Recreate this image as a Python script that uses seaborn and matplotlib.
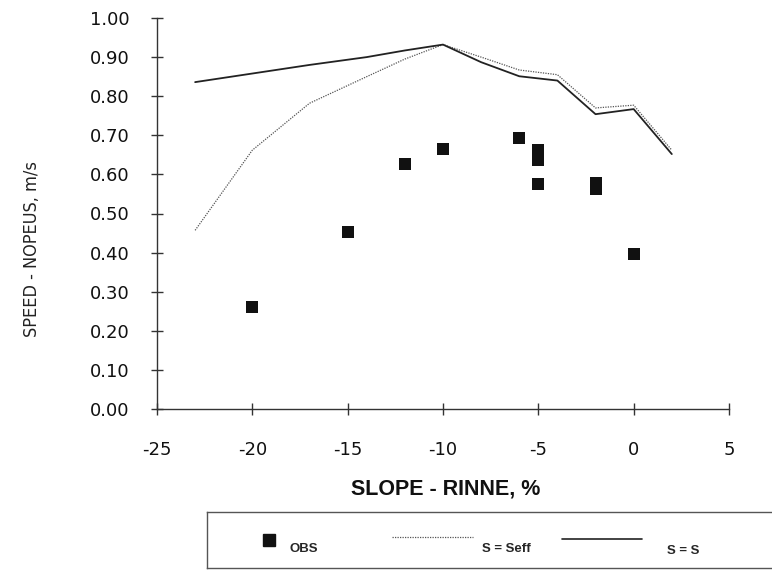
import numpy as np
import pandas as pd
import matplotlib
matplotlib.use("Agg")
import matplotlib.pyplot as plt
import seaborn as sns

# ---- data ----
obs_slope = [-20, -15, -12, -10, -6, -5, -5, -5, -2, -2, 0]
obs_speed = [0.26, 0.453, 0.626, 0.665, 0.692, 0.662, 0.636, 0.576, 0.578, 0.562, 0.397]

line_slope = [-23, -20, -17, -14, -12, -10, -8, -6, -4, -2, 0, 2]
seff_speed = [0.457, 0.662, 0.782, 0.850, 0.895, 0.932, 0.900, 0.867, 0.855, 0.770, 0.777, 0.662]
s_speed = [0.836, 0.858, 0.880, 0.900, 0.917, 0.932, 0.887, 0.851, 0.840, 0.754, 0.767, 0.652]

x_ticks = [-25, -20, -15, -10, -5, 0, 5]
y_ticks = [0.0, 0.1, 0.2, 0.3, 0.4, 0.5, 0.6, 0.7, 0.8, 0.9, 1.0]

legend_labels = ["OBS", "S = Seff", "S = S"]

sns.set_style("ticks")
plt.rcParams["font.family"] = ["DejaVu Sans"]

W, H = 772, 572
fig = plt.figure(figsize=(W / 100, H / 100), dpi=100)
ax = fig.add_axes([157 / W, 1 - 409 / H, (729 - 157) / W, (409 - 18) / H])

lines_df = pd.DataFrame({"slope": line_slope, "seff": seff_speed, "s": s_speed})
obs_df = pd.DataFrame({"slope": obs_slope, "speed": obs_speed})

sns.lineplot(data=lines_df, x="slope", y="seff", ax=ax, color="#555555",
             linestyle=(0, (1, 1)), linewidth=0.9, sort=False)
sns.lineplot(data=lines_df, x="slope", y="s", ax=ax, color="#222222",
             linewidth=1.3, sort=False)
sns.scatterplot(data=obs_df, x="slope", y="speed", ax=ax, marker="s", s=75,
                color="#111111", edgecolor="#111111", linewidth=0, zorder=5)

ax.set_xlim(-25, 5)
ax.set_ylim(0, 1.0)
ax.set_xticks(x_ticks)
ax.set_xticklabels([str(t) for t in x_ticks])
ax.set_yticks(y_ticks)
ax.set_yticklabels([f"{t:.2f}" for t in y_ticks])
sns.despine(ax=ax)
for sp in ["left", "bottom"]:
    ax.spines[sp].set_color("#333333")
    ax.spines[sp].set_linewidth(1.0)
ax.tick_params(axis="both", direction="inout", length=8, width=1.0,
               color="#333333", labelsize=13, labelcolor="#111111")
ax.tick_params(axis="x", pad=19)
ax.tick_params(axis="y", pad=16)
ax.set_xlabel("SLOPE - RINNE, %", fontsize=15.5, fontweight="bold",
              color="#111111", family=["Liberation Sans", "DejaVu Sans"])
ax.xaxis.set_label_coords(0.505, -0.178)
ax.set_ylabel("SPEED - NOPEUS, m/s", fontsize=13, color="#222222",
              family=["DejaVu Sans"], fontstretch="condensed")
ax.yaxis.set_label_coords(-0.203, 0.41)

# ---- legend box (pixel-coordinate axes) ----
lax = fig.add_axes([207 / W, 1 - 568 / H, (W + 10 - 207) / W, (568 - 512) / H])
lax.set_xlim(207, W + 10)
lax.set_ylim(568, 512)
lax.set_xticks([])
lax.set_yticks([])
for sp in lax.spines.values():
    sp.set_color("#555555")
    sp.set_linewidth(1.0)
lax.plot([269], [540], marker="s", markersize=8, color="#111111", linestyle="none")
lax.text(290, 549, legend_labels[0], fontsize=9.5, fontweight="bold", va="center", ha="left",
         family=["Liberation Sans", "DejaVu Sans"])
lax.plot([392, 473], [537, 537], color="#555555", linestyle=(0, (1, 1)), linewidth=0.9)
lax.text(482, 549, legend_labels[1], fontsize=9.5, fontweight="bold", va="center", ha="left",
         family=["Liberation Sans", "DejaVu Sans"])
lax.plot([562, 642], [539, 539], color="#222222", linewidth=1.2)
lax.text(667, 551, legend_labels[2], fontsize=9.5, fontweight="bold", va="center", ha="left",
         family=["Liberation Sans", "DejaVu Sans"])

fig.savefig("out.png", dpi=100)
